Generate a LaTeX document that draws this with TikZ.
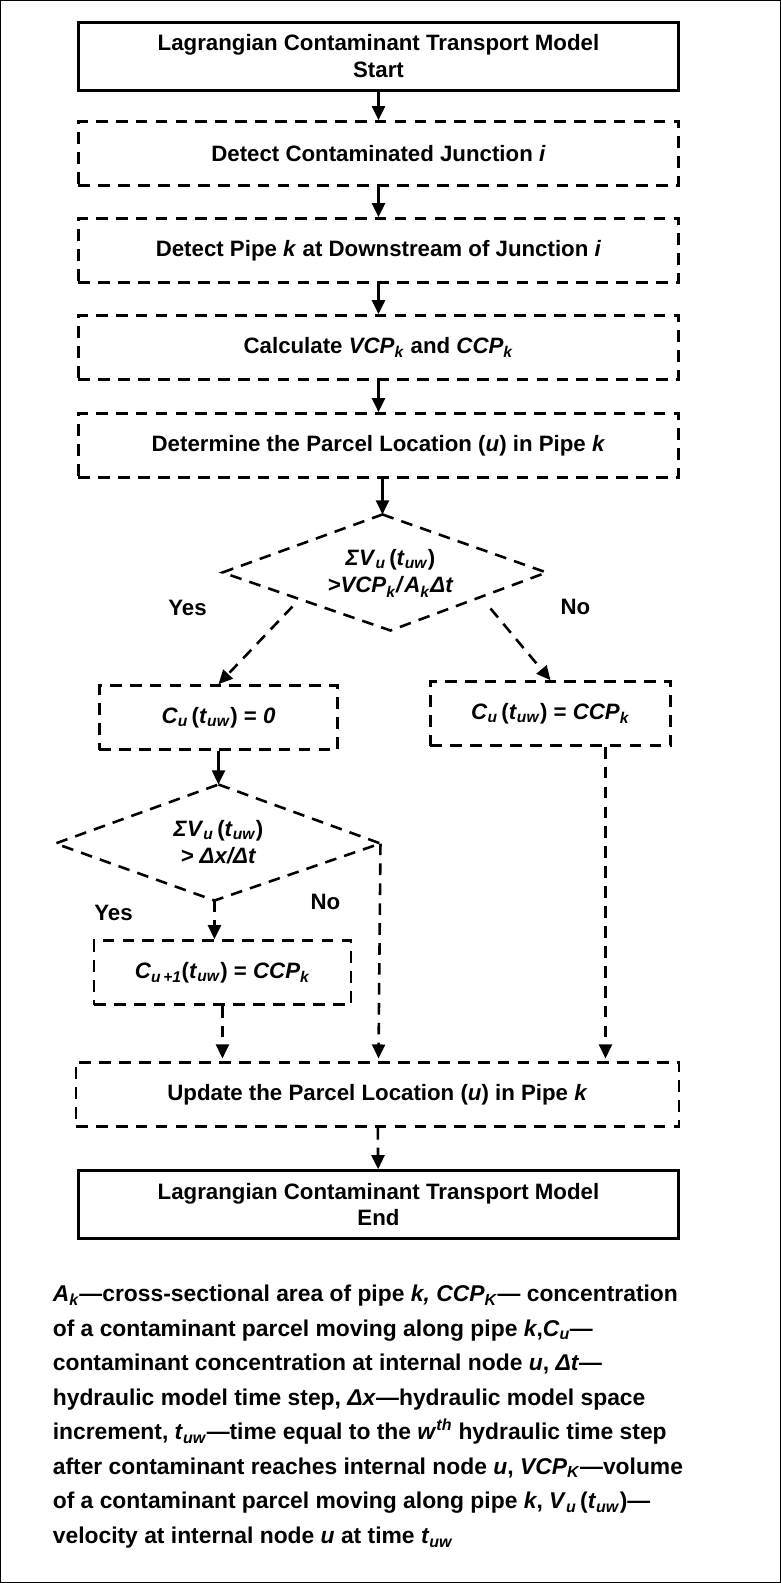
\documentclass[tikz,border=0pt]{standalone}
\usepackage{fontspec}
\setmainfont{Liberation Sans}
\usetikzlibrary{shapes.geometric,arrows.meta}
\newcommand{\vsub}[2]{\textit{#1}\textsubscript{\textit{#2}}}
\newcommand{\tuw}{(\vsub{t}{uw})}
\begin{document}
\begin{tikzpicture}
[x=0.03cm,y=-0.03cm,thick,%
  every node/.style={font=\bfseries\fontsize{19}{23}\selectfont},%
  solidbox/.style={draw,line width=2.2pt,minimum width=600*0.03cm,minimum height=68*0.03cm,align=center},%
  dashbox/.style={draw,line width=2.2pt,dash pattern=on 10pt off 7pt,minimum height=64*0.03cm,align=center},%
  dashline/.style={line width=2.2pt,dash pattern=on 10pt off 7pt},%
  arr/.style={-{Triangle[length=12pt,width=11pt]},line width=2.2pt},%
  darr/.style={arr,dash pattern=on 10pt off 7pt},%
  plain/.style={draw=none}]
\draw[line width=0.8pt] (0,0) rectangle (780,1582);
\node[solidbox] (start) at (378,56) {Lagrangian Contaminant Transport Model\\Start};
\node[dashbox,minimum width=600*0.03cm] (junc) at (378,153) {Detect Contaminated Junction \textit{i}};
\node[dashbox,minimum width=600*0.03cm] (pipe) at (378,250) {Detect Pipe \textit{k} at Downstream of Junction \textit{i}};
\node[dashbox,minimum width=600*0.03cm] (calc) at (378,347) {Calculate \vsub{VCP}{k} and \vsub{CCP}{k}};
\node[dashbox,minimum width=600*0.03cm] (loc) at (378,445) {Determine the Parcel Location (\textit{u}) in Pipe \textit{k}};
\draw[dashline] (382,514) coordinate (d1t) -- (546,572) -- (390,630) coordinate (d1b) -- (222,572) -- cycle;
\node[plain,align=center] (cond1) at (390,573) {\textit{Σ}\vsub{V}{u}\,\tuw\\\textit{>}\vsub{VCP}{k}\textit{/}\vsub{A}{k}\textit{Δt}};
\node[plain] (yes1) at (187,607) {Yes};
\node[plain] (no1) at (575,606) {No};
\node[dashbox,minimum width=238*0.03cm] (czero) at (218,717) {\vsub{C}{u}\,\tuw{} = \textit{0}};
\node[dashbox,minimum width=240*0.03cm] (cccp) at (550,713) {\vsub{C}{u}\,\tuw{} = \vsub{CCP}{k}};
\draw[dashline] (218,784) coordinate (d2t) -- (380,843) coordinate (d2r) -- (214,900) coordinate (d2b) -- (55,843) -- cycle;
\node[plain,align=center] (cond2) at (218,842) {\textit{Σ}\vsub{V}{u}\,\tuw\\\textit{> Δx/Δt}};
\node[plain] (yes2) at (113,912) {Yes};
\node[plain] (no2) at (325,901) {No};
\node[dashbox,minimum width=257*0.03cm] (cnext) at (222,972) {\vsub{C}{u\,+1}\tuw{} = \vsub{CCP}{k}};
\node[dashbox,minimum width=603*0.03cm] (upd) at (377,1094) {Update the Parcel Location (\textit{u}) in Pipe \textit{k}};
\node[solidbox] (end) at (378,1204) {Lagrangian Contaminant Transport Model\\End};
\coordinate (y1a) at (292,606); \coordinate (n1a) at (490,608);
\coordinate (c1) at (222,1058); \coordinate (c2) at (378,1058); \coordinate (c3) at (605,1058);
\draw[arr] (start) -- (junc);
\draw[arr] (junc) -- (pipe);
\draw[arr] (pipe) -- (calc);
\draw[arr] (calc) -- (loc);
\draw[arr] (loc.south -| d1t) -- (d1t);
\draw[darr] (y1a) -- (czero.north);
\draw[darr] (n1a) -- (cccp.north);
\draw[arr] (czero.south -| d2t) -- (d2t);
\draw[darr] (d2b) -- (d2b |- cnext.north);
\draw[darr] (cnext.south -| c1) -- (c1);
\draw[darr] (d2r) -- (c2);
\draw[darr] (cccp.south -| c3) -- (c3);
\draw[darr] (upd) -- (end);
\node[plain,anchor=north west,align=left,font=\bfseries\fontsize{19.5}{29.5}\selectfont] (legend) at (48,1280)
{\vsub{A}{k}—cross-sectional area of pipe \textit{k, }\vsub{CCP}{K}— concentration\\
of a contaminant parcel moving along pipe \textit{k},\vsub{C}{u}—\\
contaminant concentration at internal node \textit{u}, \textit{Δt}—\\
hydraulic model time step, \textit{Δx}—hydraulic model space\\
increment, \vsub{t}{uw}—time equal to the \textit{w}\textsuperscript{\textit{th}} hydraulic time step\\
after contaminant reaches internal node \textit{u}, \vsub{VCP}{K}—volume\\
of a contaminant parcel moving along pipe \textit{k}, \vsub{V}{u}\,\tuw—\\
velocity at internal node \textit{u} at time \vsub{t}{uw}};
\end{tikzpicture}
\end{document}
